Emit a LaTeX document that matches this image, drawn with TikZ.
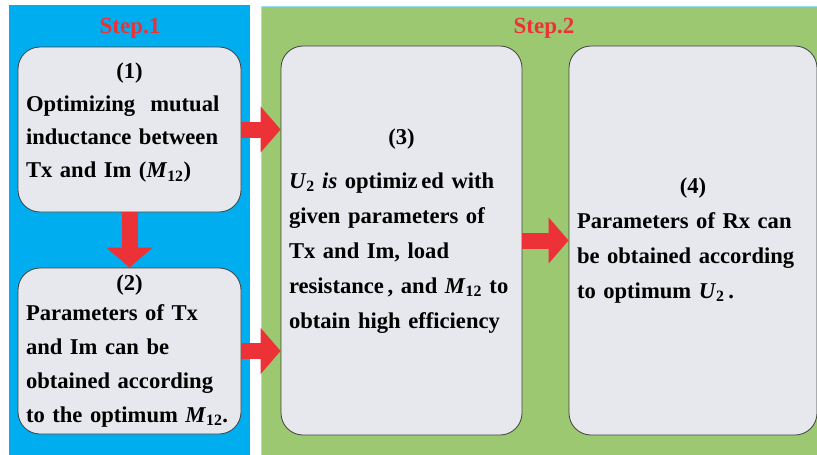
\documentclass[tikz,border=0pt]{standalone}
\usepackage{fontspec}
\setmainfont{Liberation Serif}
\usetikzlibrary{arrows.meta,positioning,calc}
\definecolor{panelblue}{RGB}{0,174,239}
\definecolor{panelgreen}{RGB}{155,200,112}
\definecolor{boxgray}{RGB}{230,232,237}
\definecolor{arrowred}{RGB}{237,50,55}

\begin{document}
\begin{tikzpicture}[x=1pt,y=-1pt,
  stepbox/.style={draw=black!75,line width=0.8pt,fill=boxgray,rounded corners=22pt,align=left,inner xsep=8pt,inner ysep=0pt,font=\bfseries\fontsize{22.6}{34}\selectfont},
  steptitle/.style={text=arrowred,font=\bfseries\fontsize{23}{28}\selectfont},
  bigarrow/.style={arrowred,line width=16pt,-{Triangle[width=45pt,length=20pt]}}]
\useasboundingbox (0,0) rectangle (817,455);
\fill[white] (0,0) rectangle (817,455);
% the two panels
\fill[panelblue] (9,5) rectangle (250,455);
\filldraw[fill=panelgreen,draw=cyan!40,line width=1pt] (261,6) rectangle (819,457);
\node[steptitle] (s1) at (130,28) {Step.1};
\node[steptitle] (s2) at (544,28) {Step.2};
% boxes
\node[stepbox,text width=207pt,minimum height=165pt] (b1) at (129.5,129.5)
  {\makebox[\hsize]{(1)}\\[-1pt] \mbox{Optimizing\ \ mutual}\\[-1pt] \mbox{inductance between}\\[-1pt] Tx and Im (\textit{M}\textsubscript{12})\\[-16pt]\mbox{}};
\node[stepbox,text width=207pt,minimum height=166pt] (b2) at (129.5,351)
  {\makebox[\hsize]{(2)}\\[-4pt] Parameters of Tx\\ and Im can be\\ \mbox{obtained according}\\ \mbox{to the optimum \textit{M}\textsubscript{12}.}};
\node[stepbox,text width=225pt,minimum height=389pt] (b3) at (401.5,240.5)
  {\makebox[\hsize]{(3)}\\[10pt] \mbox{\textit{U}\textsubscript{2}\ \textit{is} optimiz\,ed with}\\[1pt] \mbox{given parameters of}\\[1pt] Tx and Im, load\\[1pt] \mbox{resistance\,, and \textit{M}\textsubscript{12} to}\\[1pt] \mbox{obtain high efficiency}\\[-10pt]\mbox{}};
\node[stepbox,text width=232pt,minimum height=389pt] (b4) at (693,240.5)
  {\makebox[\hsize]{(4)}\\[1pt] \mbox{Parameters of Rx can}\\[1pt] \mbox{be obtained according}\\[1pt] \mbox{to optimum \textit{U}\textsubscript{2}\,.}};
% arrows
\draw[bigarrow] (b1.east) -- (b3.west |- b1.east);
\draw[bigarrow] (b2.east) -- (b3.west |- b2.east);
\draw[bigarrow] (b1.south) -- (b2.north);
\draw[bigarrow] (b3.east) -- (b4.west);
\end{tikzpicture}
\end{document}
